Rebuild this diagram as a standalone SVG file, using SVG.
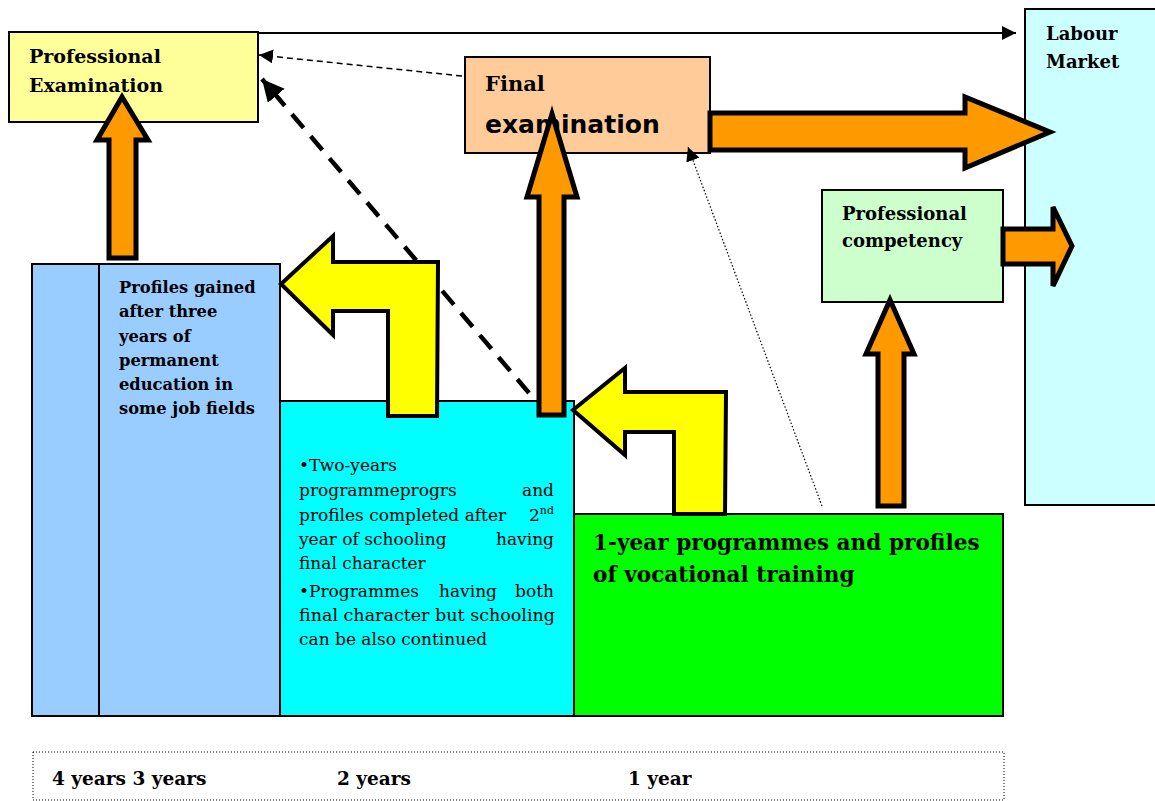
<svg xmlns="http://www.w3.org/2000/svg" width="1155" height="801" viewBox="0 0 1155 801">
<style>
.box{stroke:#000;stroke-width:2}
.b{font-family:"DejaVu Serif","Liberation Serif",serif;font-weight:bold;fill:#000}
.n{font-family:"DejaVu Serif","Liberation Serif",serif;fill:#000}
.oa{fill:#FF9900;stroke:#000;stroke-width:5;stroke-linejoin:miter}
.ya{fill:#FFFF00;stroke:#000;stroke-width:4;stroke-linejoin:miter}
</style>
<defs>
<marker id="ahb" viewBox="0 0 10 10" refX="10" refY="5" markerWidth="22" markerHeight="22" markerUnits="userSpaceOnUse" orient="auto"><path d="M0,0 L10,5 L0,10 z" fill="#000"/></marker>
<marker id="ahm" viewBox="0 0 10 10" refX="10" refY="5" markerWidth="14" markerHeight="14" markerUnits="userSpaceOnUse" orient="auto"><path d="M0,0 L10,5 L0,10 z" fill="#000"/></marker>
</defs>

<g id="labour-market">
<rect class="box" x="1025" y="9" width="140" height="496" fill="#CCFFFF"/>
<text class="b" font-size="18"><tspan x="1046" y="40">Labour</tspan><tspan x="1046" y="68">Market</tspan></text>
</g>

<g id="professional-examination">
<rect class="box" x="9" y="32" width="249" height="90" fill="#FFFF99"/>
<text class="b" font-size="19"><tspan x="29" y="63">Professional</tspan><tspan x="29" y="92">Examination</tspan></text>
</g>

<g id="final-examination">
<rect class="box" x="465" y="57" width="245" height="96" fill="#FFCC99"/>
<text class="b" font-size="21" x="485" y="91">Final</text>
<text font-family="'Comic Sans MS','DejaVu Sans',sans-serif" font-weight="bold" font-size="25" x="485" y="133">examination</text>
</g>

<g id="professional-competency">
<rect class="box" x="822" y="190" width="181" height="112" fill="#CCFFCC"/>
<text class="b" font-size="18"><tspan x="842" y="220">Professional</tspan><tspan x="842" y="247">competency</tspan></text>
</g>

<g id="three-year-profiles">
<rect class="box" x="32" y="264" width="248" height="452" fill="#99CCFF"/>
<line x1="99" y1="264" x2="99" y2="716" stroke="#000" stroke-width="2"/>
<text class="b" font-size="16.3"><tspan x="119" y="293">Profiles gained</tspan><tspan x="119" y="317">after three</tspan><tspan x="119" y="342">years of</tspan><tspan x="119" y="366">permanent</tspan><tspan x="119" y="390">education in</tspan><tspan x="119" y="414">some job fields</tspan></text>
</g>

<g id="two-year-programmes">
<rect class="box" x="280" y="401" width="294" height="315" fill="#00FFFF"/>
<g class="n" font-size="17">
<text x="299" y="471">•Two-years</text>
<text y="496"><tspan x="299">programmeprogrs</tspan><tspan x="554" text-anchor="end">and</tspan></text>
<text y="521"><tspan x="299">profiles completed after</tspan></text>
<text y="521" x="554" text-anchor="end">2<tspan font-size="11" dy="-7">nd</tspan></text>
<text y="545"><tspan x="299">year of schooling</tspan><tspan x="554" text-anchor="end">having</tspan></text>
<text x="299" y="569">final character</text>
<text y="597"><tspan x="299">•Programmes</tspan><tspan x="468" text-anchor="middle">having</tspan><tspan x="554" text-anchor="end">both</tspan></text>
<text x="299" y="621" textLength="256" lengthAdjust="spacingAndGlyphs">final character but schooling</text>
<text x="299" y="645">can be also continued</text>
</g>
</g>

<g id="one-year-programmes">
<rect class="box" x="574" y="514" width="429" height="202" fill="#00FF00"/>
<text class="b" font-size="21.6"><tspan x="593" y="550">1-year programmes and profiles</tspan><tspan x="593" y="582">of vocational training</tspan></text>
</g>

<g id="timeline">
<rect x="33" y="752" width="971" height="48" fill="none" stroke="#000" stroke-width="1" stroke-dasharray="1 2"/>
<text class="b" font-size="18.5"><tspan x="52" y="785">4 years 3 years</tspan><tspan x="337" y="785">2 years</tspan><tspan x="628" y="785">1 year</tspan></text>
</g>

<g id="connectors">
<line x1="258" y1="33" x2="1016" y2="33" stroke="#000" stroke-width="2" marker-end="url(#ahm)"/>
<line x1="462" y1="76" x2="259" y2="55" stroke="#000" stroke-width="1.5" stroke-dasharray="6 4" marker-end="url(#ahm)"/>
<line x1="529" y1="393" x2="262" y2="79" stroke="#000" stroke-width="4.5" stroke-dasharray="18 11" marker-end="url(#ahb)"/>
<line x1="822" y1="506" x2="688" y2="147" stroke="#000" stroke-width="1.2" stroke-dasharray="1.5 2" marker-end="url(#ahm)"/>
<path class="oa" d="M109,258 L136,258 L136,140 L148,140 L122,97 L97,140 L109,140 Z"/>
<path class="oa" d="M539,415 L564,415 L564,197 L577,197 L552,114 L527,197 L539,197 Z"/>
<path class="oa" d="M878,506 L904,506 L904,354 L914,354 L890,300 L866,354 L878,354 Z"/>
<path class="oa" d="M710,113 L965,113 L965,97 L1050,132 L965,168 L965,150 L710,150 Z"/>
<path class="oa" stroke-width="3.5" d="M1003,229 L1053,229 L1053,207 L1072,246 L1053,286 L1053,264 L1003,264 Z"/>
<path class="ya" d="M281,284 L333,236 L333,262 L438,262 L437,416 L388,416 L388,311 L333,311 L333,335 Z"/>
<path class="ya" d="M573,410 L625,368 L625,392 L726,392 L725,514 L674,514 L674,432 L625,432 L625,455 Z"/>
</g>
</svg>
